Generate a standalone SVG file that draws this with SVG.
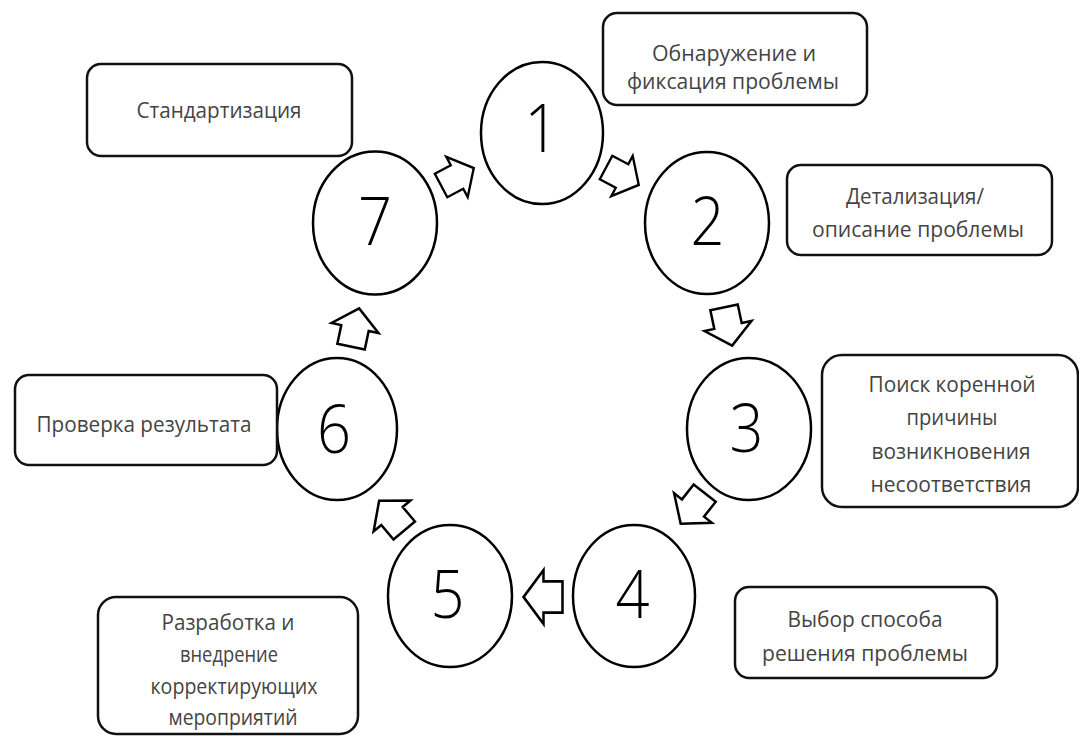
<svg xmlns="http://www.w3.org/2000/svg" width="1079" height="739" viewBox="0 0 1079 739">
<style>
.bg{fill:#fff}
.node ellipse{fill:#fff;stroke:#000;stroke-width:2.5}
.node rect{fill:#fff;stroke:#111;stroke-width:2.5}
.num{font-family:"Open Sans","Noto Sans","Liberation Sans",sans-serif;font-weight:300;font-size:66px;fill:#000;text-anchor:middle}
.lbl{font-family:"Open Sans","Noto Sans","Liberation Sans",sans-serif;font-size:21px;fill:#444;text-anchor:middle}
.arr{fill:#fff;stroke:#000;stroke-width:2.5;stroke-linejoin:miter}
</style>
<defs>
<path id="blk" d="M-19,-14 H0 V-24 L20,0 L0,24 V14 H-19 Z"/>
</defs>
<rect class="bg" x="0" y="0" width="1079" height="739"/>

<g id="connectors">
<use href="#blk" class="arr" transform="translate(457,177) rotate(-28) scale(0.95)"/>
<use href="#blk" class="arr" transform="translate(622,176) rotate(28) scale(0.95)"/>
<use href="#blk" class="arr" transform="translate(728,326) rotate(78)"/>
<use href="#blk" class="arr" transform="translate(693,508) rotate(128)"/>
<use href="#blk" class="arr" transform="translate(543.5,597) rotate(180) scale(1,1.12)"/>
<use href="#blk" class="arr" transform="translate(392,516) rotate(-130)"/>
<use href="#blk" class="arr" transform="translate(355,328) rotate(-78)"/>
</g>

<g id="node1" class="node">
<ellipse cx="542" cy="133" rx="61" ry="71"/>
<text class="num" x="541.5" y="152" textLength="34" lengthAdjust="spacingAndGlyphs">1</text>
</g>
<g id="node2" class="node">
<ellipse cx="707" cy="223" rx="62" ry="71"/>
<text class="num" x="707.5" y="245" textLength="34" lengthAdjust="spacingAndGlyphs">2</text>
</g>
<g id="node3" class="node">
<ellipse cx="749" cy="429" rx="62" ry="71"/>
<text class="num" x="746.5" y="452" textLength="34" lengthAdjust="spacingAndGlyphs">3</text>
</g>
<g id="node4" class="node">
<ellipse cx="634" cy="596" rx="61" ry="71"/>
<text class="num" x="632.5" y="618" textLength="34" lengthAdjust="spacingAndGlyphs">4</text>
</g>
<g id="node5" class="node">
<ellipse cx="450" cy="596" rx="62" ry="71"/>
<text class="num" x="447.5" y="618" textLength="34" lengthAdjust="spacingAndGlyphs">5</text>
</g>
<g id="node6" class="node">
<ellipse cx="337" cy="429" rx="60" ry="71"/>
<text class="num" x="334" y="453" textLength="34" lengthAdjust="spacingAndGlyphs">6</text>
</g>
<g id="node7" class="node">
<ellipse cx="375" cy="223" rx="62" ry="71.5"/>
<text class="num" x="375" y="245" textLength="34" lengthAdjust="spacingAndGlyphs">7</text>
</g>

<g id="label1" class="node">
<rect x="603" y="13" width="264" height="92" rx="14"/>
<text class="lbl" x="734" y="61" textLength="164" lengthAdjust="spacingAndGlyphs">Обнаружение и</text>
<text class="lbl" x="733" y="89" textLength="212" lengthAdjust="spacingAndGlyphs">фиксация проблемы</text>
</g>
<g id="label2" class="node">
<rect x="787" y="165" width="265" height="90" rx="14"/>
<text class="lbl" x="915" y="204" textLength="138" lengthAdjust="spacingAndGlyphs">Детализация/</text>
<text class="lbl" x="918" y="237" textLength="212" lengthAdjust="spacingAndGlyphs">описание проблемы</text>
</g>
<g id="label3" class="node">
<rect x="822" y="355" width="256" height="152" rx="20"/>
<text class="lbl" x="952" y="392" textLength="167" lengthAdjust="spacingAndGlyphs">Поиск коренной</text>
<text class="lbl" x="952" y="425" textLength="91" lengthAdjust="spacingAndGlyphs">причины</text>
<text class="lbl" x="951" y="459" textLength="159" lengthAdjust="spacingAndGlyphs">возникновения</text>
<text class="lbl" x="951" y="492" textLength="161" lengthAdjust="spacingAndGlyphs">несоответствия</text>
</g>
<g id="label4" class="node">
<rect x="735" y="587" width="262" height="91" rx="14"/>
<text class="lbl" x="865" y="627" textLength="155" lengthAdjust="spacingAndGlyphs">Выбор способа</text>
<text class="lbl" x="865" y="661" textLength="206" lengthAdjust="spacingAndGlyphs">решения  проблемы</text>
</g>
<g id="label5" class="node">
<rect x="98" y="597" width="260" height="137" rx="18"/>
<text class="lbl" x="228" y="630" textLength="133" lengthAdjust="spacingAndGlyphs">Разработка и</text>
<text class="lbl" x="229" y="662" textLength="98" lengthAdjust="spacingAndGlyphs">внедрение</text>
<text class="lbl" x="234" y="694" textLength="167" lengthAdjust="spacingAndGlyphs">корректирующих</text>
<text class="lbl" x="233" y="725" textLength="129" lengthAdjust="spacingAndGlyphs">мероприятий</text>
</g>
<g id="label6" class="node">
<rect x="15" y="375" width="262" height="90" rx="14"/>
<text class="lbl" x="144" y="432" textLength="215" lengthAdjust="spacingAndGlyphs">Проверка результата</text>
</g>
<g id="label7" class="node">
<rect x="87" y="64" width="265" height="92" rx="14"/>
<text class="lbl" x="219" y="118" textLength="165" lengthAdjust="spacingAndGlyphs">Стандартизация</text>
</g>
</svg>
